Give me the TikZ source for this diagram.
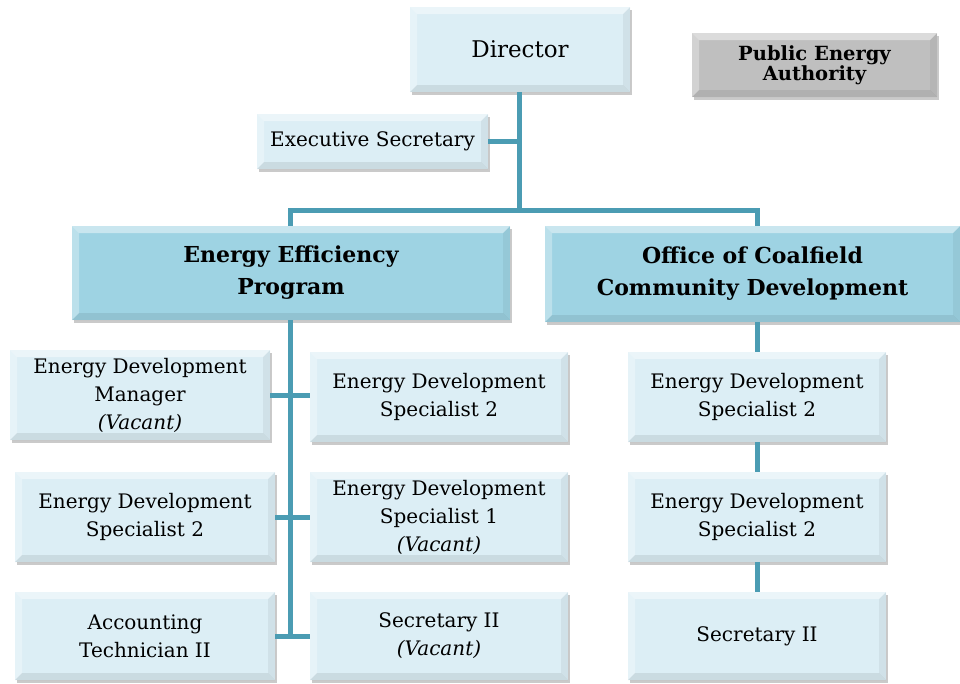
\documentclass[tikz,border=0pt]{standalone}
\usepackage{fontspec}
\setmainfont{DejaVu Serif}
\usetikzlibrary{calc,shadows}
\definecolor{boxlight}{HTML}{DCEEF5}
\definecolor{boxhead}{HTML}{9ED3E3}
\definecolor{boxgray}{HTML}{BFBFBF}
\definecolor{linkteal}{HTML}{4B9CB3}
\tikzset{
  bevel/.style={path picture={
    \fill[white,opacity=0.45]
      (path picture bounding box.north west) -- (path picture bounding box.north east)
      -- ($(path picture bounding box.north east)+(-7pt,-7pt)$)
      -- ($(path picture bounding box.north west)+(7pt,-7pt)$) -- cycle;
    \fill[white,opacity=0.3]
      (path picture bounding box.north west) -- (path picture bounding box.south west)
      -- ($(path picture bounding box.south west)+(7pt,7pt)$)
      -- ($(path picture bounding box.north west)+(7pt,-7pt)$) -- cycle;
    \fill[black,opacity=0.08]
      (path picture bounding box.south west) -- (path picture bounding box.south east)
      -- ($(path picture bounding box.south east)+(-7pt,7pt)$)
      -- ($(path picture bounding box.south west)+(7pt,7pt)$) -- cycle;
    \fill[black,opacity=0.05]
      (path picture bounding box.north east) -- (path picture bounding box.south east)
      -- ($(path picture bounding box.south east)+(-7pt,7pt)$)
      -- ($(path picture bounding box.north east)+(-7pt,-7pt)$) -- cycle;
  }},
  card/.style={bevel, draw=none, fill=boxlight, align=center, inner sep=0pt,
    font=\fontsize{20}{28}\selectfont,
    drop shadow={shadow xshift=2pt, shadow yshift=-3pt, opacity=0.35, fill=black!60}},
  headcard/.style={card, fill=boxhead, font=\fontsize{22}{32}\selectfont\bfseries},
  graycard/.style={card, fill=boxgray, font=\fontsize{19.5}{19}\selectfont\bfseries},
  conn/.style={draw=linkteal, line width=5pt},
}
\begin{document}
\begin{tikzpicture}[x=1pt,y=-1pt]
\useasboundingbox (0,0) rectangle (960,683);

% top level
\node[card, font=\fontsize{23}{28}\selectfont, minimum width=220pt, minimum height=85pt] (dir) at (520,49.5) {Director};
\node[graycard, minimum width=245pt, minimum height=64pt] (pea) at (814.5,65) {Public Energy\\Authority};
\node[card, minimum width=231pt, minimum height=55pt] (exec) at (372.5,141.5) {Executive Secretary};

% divisions
\node[headcard, minimum width=438pt, minimum height=94pt] (eep) at (291,273) {Energy Efficiency\\Program};
\node[headcard, minimum width=415pt, minimum height=96pt] (occd) at (752.5,274) {Office of Coalfield\\Community Development};

% Energy Efficiency Program staff
\node[card, minimum width=260pt, minimum height=90pt] (mgr) at (140,395) {Energy Development\\Manager\\\textit{(Vacant)}};
\node[card, minimum width=260pt, minimum height=90pt] (eds2a) at (145,517) {Energy Development\\Specialist 2};
\node[card, minimum width=260pt, minimum height=88pt] (acct) at (145,636) {Accounting\\Technician II};
\node[card, minimum width=258pt, minimum height=90pt] (eds2b) at (439,397) {Energy Development\\Specialist 2};
\node[card, minimum width=258pt, minimum height=90pt] (eds1) at (439,517) {Energy Development\\Specialist 1\\\textit{(Vacant)}};
\node[card, minimum width=258pt, minimum height=88pt] (sec) at (439,636) {Secretary II\\\textit{(Vacant)}};

% Coalfield office staff
\node[card, minimum width=258pt, minimum height=90pt] (o1) at (757,397) {Energy Development\\Specialist 2};
\node[card, minimum width=258pt, minimum height=90pt] (o2) at (757,517) {Energy Development\\Specialist 2};
\node[card, minimum width=258pt, minimum height=88pt] (o3) at (757,636) {Secretary II};

% junction points
\coordinate (jtop) at (519,210);
\coordinate (jl) at (290,210);
\coordinate (jr) at (757,210);
\coordinate (jbot) at (290,636);

% connectors
\draw[conn] (dir.south -| jtop) -- (jtop);
\draw[conn] (exec.east) -- (exec.east -| jtop);
\draw[conn] (eep.north -| jl) -- (jl) -- (jr) -- (occd.north -| jr);
\draw[conn] (eep.south -| jl) -- (jbot);
\draw[conn] (mgr.east) -- (eds2b.west |- mgr.east);
\draw[conn] (eds2a.east) -- (eds1.west);
\draw[conn] (acct.east) -- (sec.west);
\draw[conn] (occd.south -| jr) -- (o1.north);
\draw[conn] (o1.south) -- (o2.north);
\draw[conn] (o2.south) -- (o3.north);
\end{tikzpicture}
\end{document}
